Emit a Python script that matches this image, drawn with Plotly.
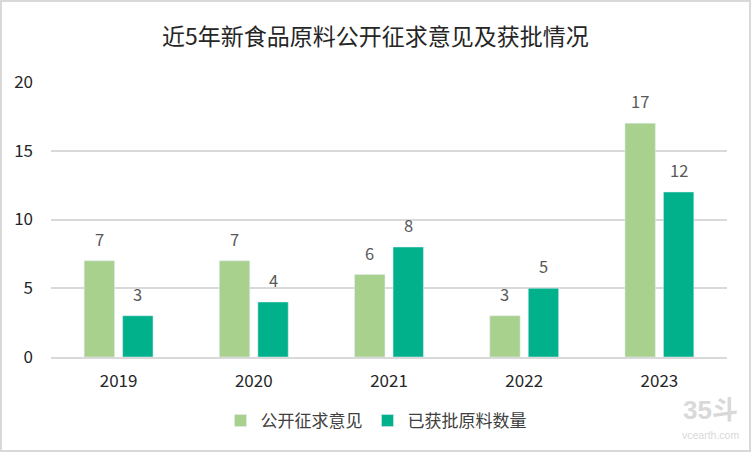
import plotly.graph_objects as go

years = ["2019", "2020", "2021", "2022", "2023"]
solicited = [7, 7, 6, 3, 17]
approved = [3, 4, 8, 5, 12]
FONT = "Noto Sans CJK SC"
W, H = 751, 452
L, R, T, B = 51, 24, 82, 95
PW, PH = W - L - R, H - T - B


def px(x):
    return (x - L) / PW


def py(y):
    return (H - B - y) / PH


fig = go.Figure()
fig.add_bar(x=years, y=solicited, name="公开征求意见", marker_color="#A9D18E")
fig.add_bar(x=years, y=approved, name="已获批原料数量", marker_color="#00B18C")

annotations = []
for series, shift in ((solicited, -19.25), (approved, 19.25)):
    for index, value in enumerate(series):
        annotations.append(dict(x=index, y=value, text=str(value), showarrow=False, xshift=shift,
                                yshift=22, yanchor="middle",
                                font=dict(size=16.5, color="#595959")))
annotations += [
    dict(text="<b>35斗</b>", xref="paper", yref="paper", x=px(710), y=py(410), xanchor="center", yanchor="middle",
         showarrow=False, font=dict(family="Liberation Sans, " + FONT, size=26, color="#D9D9D9")),
    dict(text="vcearth.com", xref="paper", yref="paper", x=px(710), y=py(435), xanchor="center", yanchor="middle",
         showarrow=False, font=dict(family="Liberation Sans", size=10.5, color="#D9D9D9")),
]

fig.update_layout(
    width=W, height=H, barmode="group", bargap=0.431, bargroupgap=0.21,
    paper_bgcolor="white", plot_bgcolor="white",
    font=dict(family=FONT, color="#404040"),
    title=dict(text="近5年新食品原料公开征求意见及获批情况", x=0.5, xref="container", xanchor="center",
               y=1 - 37 / H, yref="container", yanchor="middle", font=dict(size=23, color="#262626")),
    margin=dict(l=L, r=R, t=T, b=B),
    legend=dict(orientation="h", x=px(376), xanchor="center", y=py(421), yanchor="middle",
                font=dict(size=17, color="#404040"), itemwidth=30),
    xaxis=dict(type="category", range=[-0.5, len(years) - 0.5], showline=True, linecolor="#D9D9D9", linewidth=1.5,
               ticks="", ticklabelstandoff=8, tickfont=dict(size=17, color="#262626")),
    yaxis=dict(range=[0, 20], dtick=5, gridcolor="#D9D9D9", gridwidth=1.5, zeroline=False,
               ticks="", ticklabelstandoff=17, tickfont=dict(size=17, color="#262626")),
    shapes=[dict(type="rect", xref="paper", yref="paper", x0=px(1), x1=px(750), y0=py(451), y1=py(1),
                 line=dict(color="#D9D9D9", width=2), fillcolor="rgba(0,0,0,0)", layer="below")],
    annotations=annotations,
)
fig.write_html("out.html", config={"displayModeBar": False}, post_script="document.body.style.margin='0';")
